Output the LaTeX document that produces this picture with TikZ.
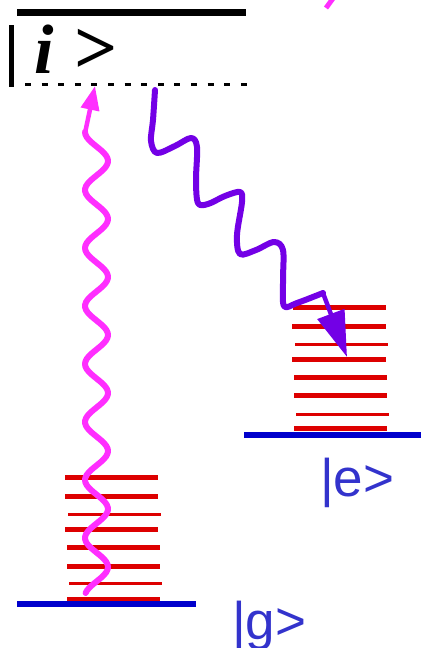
\documentclass[tikz,border=0pt]{standalone}
\usepackage{fontspec}
\setmainfont{Liberation Serif}
\newfontfamily\arialfont{Liberation Sans}
\usetikzlibrary{arrows.meta}
\definecolor{magentaw}{HTML}{FF2EFF}
\definecolor{violetw}{HTML}{7300E6}
\definecolor{redlvl}{HTML}{DD0000}
\definecolor{bluelvl}{HTML}{0000CC}
\definecolor{bluetxt}{HTML}{3333CC}
\begin{document}
\begin{tikzpicture}[x=1pt,y=-1pt,
  thicklvl/.style={draw=redlvl, line width=5pt},
  thinlvl/.style={draw=redlvl, line width=3pt},
  baselvl/.style={draw=bluelvl, line width=6pt},
  ketlabel/.style={anchor=base west, inner sep=0pt, text=bluetxt, font=\arialfont\fontsize{53}{53}\selectfont},
  photonup/.style={draw=magentaw, line width=6pt, line cap=round, line join=round},
  photondown/.style={draw=violetw, line width=6pt, line cap=round, line join=round}]
\useasboundingbox (0,0) rectangle (421,648);

% virtual level |i>
\draw[line width=7pt] (17,12) -- (246,12);
\draw[line width=5pt] (11.5,25) -- (11.5,87);
\draw[line width=3pt, dash pattern=on 6pt off 10.6pt] (25,84) -- (248,84);
\node[anchor=base west, inner sep=0pt, font=\fontsize{70}{70}\selectfont\bfseries] (ilabel) at (34,73) {\textit{i}\hspace{21pt}{\fontsize{76}{76}\selectfont >}};

% fragment top right
\draw[magentaw, line width=5pt] (334,-3) -- (326,8);

% ground manifold
\draw[thicklvl] (65,477) -- (158,477);
\draw[thicklvl] (65,496) -- (158,496);
\draw[thinlvl]  (68,514) -- (161,514);
\draw[thicklvl] (65,529) -- (158,529);
\draw[thicklvl] (67,547) -- (160,547);
\draw[thicklvl] (67,566) -- (160,566);
\draw[thinlvl]  (69,583) -- (162,583);
\draw[thicklvl] (67,599) -- (160,599);
\draw[baselvl] (17,604) -- (196,604);
\node[ketlabel] (glabel) at (232,639) {|g>};

% excited manifold
\draw[thicklvl] (293,307) -- (386,307);
\draw[thicklvl] (292,326) -- (386,326);
\draw[thinlvl]  (295,344) -- (388,344);
\draw[thicklvl] (292,359) -- (386,359);
\draw[thicklvl] (294,377) -- (387,377);
\draw[thicklvl] (294,395) -- (387,395);
\draw[thinlvl]  (296,414) -- (389,414);
\draw[thicklvl] (294,428) -- (387,428);
\draw[baselvl] (244,435) -- (421,435);
\node[ketlabel] (elabel) at (320,496) {|e>};

% absorbed photon (magenta, wavy upward)
\coordinate (mtip) at (95,86);
\draw[photonup] plot[domain=593:132, samples=180, variable=\t] ({96.5-11.5*cos((\t-132)*6.2069)},\t);
\draw[draw=magentaw, line width=4.5pt, -{Triangle[length=24pt,width=18pt]}] (85,133) -- (mtip);

% emitted photon (violet, wavy downward)
\coordinate (pstart) at (155,90);
\coordinate (pend) at (323,293);
\coordinate (ptip) at (347,357);
\draw[photondown] plot[smooth, tension=0.55] coordinates {
  (155,90) (153,120) (151,141) (157,153) (175,146) (191,138) (197,147)
  (196,180) (198,203) (208,204) (225,196) (240,192) (242,202)
  (237,235) (240,254) (256,250) (274,242) (283,250)
  (283,280) (284,306) (297,303) (323,293)};
\draw[draw=violetw, line width=4.5pt, -{Triangle[length=46pt,width=28pt]}] (pend) -- (ptip);
\end{tikzpicture}
\end{document}
